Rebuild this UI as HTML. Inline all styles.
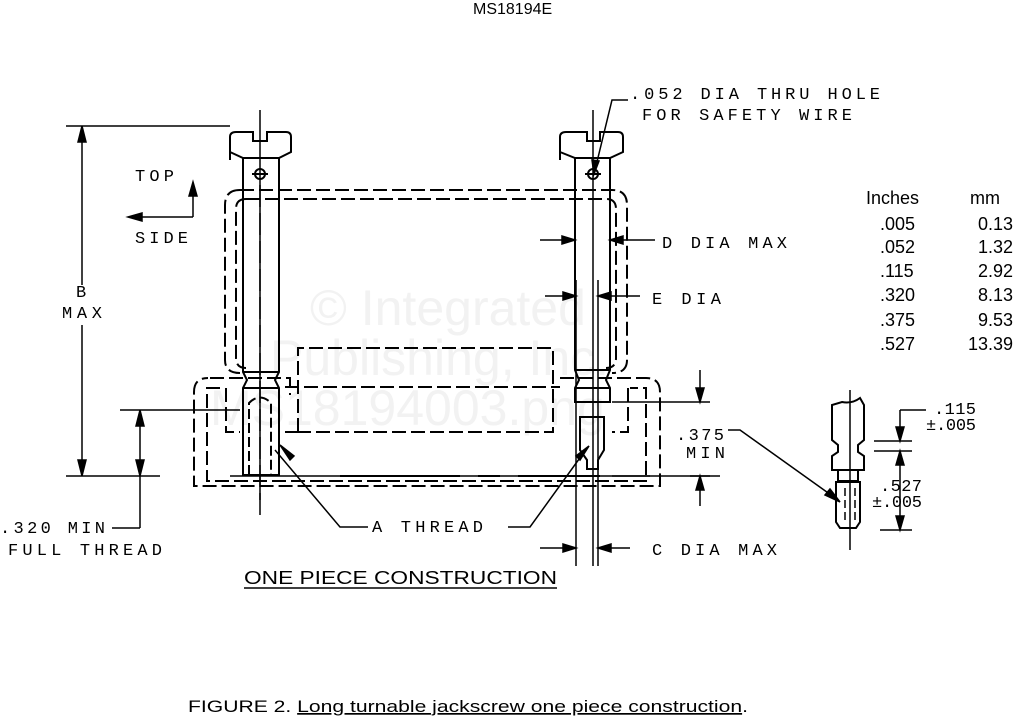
<!DOCTYPE html>
<html><head><style>
body{margin:0;background:#fff}
svg{display:block}
.t{font-family:"Liberation Sans",sans-serif;fill:#000}
.d{font-family:"Liberation Mono",monospace;fill:#000;font-size:17px}
.w{font-family:"Liberation Sans",sans-serif;fill:#f2f2f2;font-size:50px}
</style></head><body>
<svg width="1013" height="718" viewBox="0 0 1013 718" xmlns="http://www.w3.org/2000/svg">
<g class="w">
<text x="310" y="325">© Integrated</text>
<text x="270" y="375">Publishing, Inc.</text>
<text x="210" y="425">MS18194003.png</text>
</g>
<text class="t" x="473" y="14" font-size="16">MS18194E</text>
<g fill="none" stroke="#000" stroke-width="2">
<g stroke-dasharray="14,5">
<path d="M240,190 H612 Q627,190 627,205 V360 Q627,373 612,373"/>
<path d="M240,190 Q225,190 225,205 V360 Q225,373 240,373"/>
<path d="M246,199 H606 Q616,199 616,209 V358 Q616,368 606,368 M246,199 Q236,199 236,209 V358 Q236,368 246,368"/>
<path d="M210,378 H290 V395 M560,378 H646 Q660,378 660,392 V486 H194 V392 Q194,378 208,378"/>
<path d="M220,388 H207 V481 H646 V388 H630"/>
<path d="M298,432 V348 H553 V432 H298"/>
<path d="M285,387 H560 M285,432 H298"/>
<path d="M226,388 V432 H240 M628,388 V432 H612"/>
</g>
<path d="M230,160 V137 Q230,132 236,132 H253 V141 H267 V132 H286 Q291,132 291,137 V152 L279,158 H243 L230,152"/>
<path d="M243,158 V372 L247,380 L243,388 V475 H279 V388 L275,380 L279,372 V158"/>
<path d="M243,372 H279 M243,388 H279"/>
<path d="M249,475 V403 Q260,392 271,403 V475" stroke-dasharray="10,4"/>
<circle cx="260" cy="174" r="5"/>
<path d="M252,174 H268"/>
<path d="M560,160 V137 Q560,132 566,132 H587 V141 H600 V132 H618 Q623,132 623,137 V152 L610,158 H575 L560,152"/>
<path d="M575,158 V370 L579,380 L575,388 V402 H610 V388 L606,380 L610,370 V158"/>
<path d="M575,370 H610 M575,388 H610 M579,402 H606"/>
<path d="M580,417 H604 V450 L598,460 V469 H587 V460 L580,450 Z"/>
<circle cx="593" cy="174" r="5"/>
<path d="M585,174 H601"/>
</g>
<g stroke="#000" stroke-width="1.5" fill="none">
<path d="M260,110 V500"/>
<path d="M593,110 V566"/>
<path d="M598,280 V566 M576,280 V566"/>
<path d="M66,126 H230 M66,476 H160 M82,126 V285 M82,325 V476"/>
<path d="M82,126 L78,142 H86 Z M82,476 L78,460 H86 Z" fill="#000"/>
<path d="M120,410 H240 M140,410 V528 M140,528 H112"/>
<path d="M140,410 L136,426 H144 Z M140,476 L136,460 H144 Z" fill="#000"/>
<path d="M193,217 V185 M193,217 H130"/>
<path d="M193,182 L189,196 H197 Z M128,217 L142,213 V221 Z" fill="#000"/>
<path d="M230,476 H650 M690,476 H720" />
<path d="M275,450 L340,527 H368 M508,527 H530 L587,448"/>
<path d="M280,445 L290,460 L294,456 Z M589,446 L576,456 L580,460 Z" fill="#000"/>
<path d="M540,240 H575 M610,240 H655"/>
<path d="M575,240 L562,236 V244 Z M610,240 L623,236 V244 Z" fill="#000"/>
<path d="M545,296 H576 M598,296 H640"/>
<path d="M576,296 L563,292 V300 Z M598,296 L611,292 V300 Z" fill="#000"/>
<path d="M540,548 H576 M598,548 H630"/>
<path d="M576,548 L563,544 V552 Z M598,548 L611,544 V552 Z" fill="#000"/>
<path d="M628,100 H612 L595,170"/>
<path d="M594,174 L592,160 L599,161 Z" fill="#000"/>
<path d="M612,402 H710 M612,476 H710 M700,370 V402 M700,490 V506"/>
<path d="M700,402 L696,388 H704 Z M700,476 L696,490 H704 Z" fill="#000"/>
<path d="M728,430 H740 L838,500"/>
<path d="M840,502 L825,495 L830,489 Z" fill="#000"/>
<path d="M850,390 V550"/>
<path d="M832,440 V405 L842,402 Q852,404 860,398 L864,405 V440 L858,445 V452 L864,456 V470 H832 V456 L838,452 V445 L832,440 Z" stroke-width="2"/>
<path d="M838,470 V481 H858 V470 M836,482 H860 V522 L856,528 H840 L836,522 Z" stroke-width="2"/>
<path d="M845,488 V520 M855,488 V520" stroke-dasharray="8,4"/>
<path d="M874,441 H912 M874,451 H912 M900,410 H926 M900,410 V441 M900,451 V530 M880,530 H912"/>
<path d="M900,441 L896,427 H904 Z M900,451 L896,465 H904 Z M900,530 L896,516 H904 Z" fill="#000"/>
</g>
<g fill="none" stroke="#000" stroke-width="2" stroke-dasharray="120,18,22,18">
<path d="M340,476 H600"/>
</g>
<g stroke="#000" stroke-width="1.5" fill="none" stroke-dasharray="22,6"><path d="M260,185 V520"/></g>
<text class="d" x="135" y="181" textLength="39" lengthAdjust="spacing">TOP</text>
<text class="d" x="135" y="243" textLength="53" lengthAdjust="spacing">SIDE</text>
<text class="d" x="76" y="297">B</text>
<text class="d" x="62" y="318" textLength="40" lengthAdjust="spacing">MAX</text>
<text class="d" x="0" y="533" textLength="105" lengthAdjust="spacing">.320 MIN</text>
<text class="d" x="8" y="555" textLength="154" lengthAdjust="spacing">FULL THREAD</text>
<text class="d" x="372" y="532" textLength="111" lengthAdjust="spacing">A THREAD</text>
<text class="d" x="630" y="99" textLength="250" lengthAdjust="spacing">.052 DIA THRU HOLE</text>
<text class="d" x="642" y="120" textLength="210" lengthAdjust="spacing">FOR SAFETY WIRE</text>
<text class="d" x="662" y="248" textLength="125" lengthAdjust="spacing">D DIA MAX</text>
<text class="d" x="652" y="304" textLength="69" lengthAdjust="spacing">E DIA</text>
<text class="d" x="676" y="440" textLength="48" lengthAdjust="spacing">.375</text>
<text class="d" x="686" y="458" textLength="39" lengthAdjust="spacing">MIN</text>
<text class="d" x="652" y="555" textLength="125" lengthAdjust="spacing">C DIA MAX</text>
<text class="d" x="934" y="414" font-size="13" textLength="42" lengthAdjust="spacing">.115</text>
<text class="d" x="926" y="430" font-size="13" textLength="50" lengthAdjust="spacing">±.005</text>
<text class="d" x="880" y="491" font-size="13" textLength="42" lengthAdjust="spacing">.527</text>
<text class="d" x="872" y="507" font-size="13" textLength="50" lengthAdjust="spacing">±.005</text>
<text class="t" x="244" y="584" font-size="18" textLength="313" lengthAdjust="spacingAndGlyphs">ONE PIECE CONSTRUCTION</text>
<path d="M244,588 H557" stroke="#000" stroke-width="1.5"/>
<g class="t" font-size="18">
<text x="866" y="204">Inches</text><text x="970" y="204">mm</text>
<text x="880" y="230">.005</text><text x="978" y="230">0.13</text>
<text x="880" y="253">.052</text><text x="978" y="253">1.32</text>
<text x="880" y="277">.115</text><text x="978" y="277">2.92</text>
<text x="880" y="301">.320</text><text x="978" y="301">8.13</text>
<text x="880" y="326">.375</text><text x="978" y="326">9.53</text>
<text x="880" y="350">.527</text><text x="968" y="350">13.39</text>
</g>
<text class="t" x="188" y="712" font-size="17" textLength="560" lengthAdjust="spacingAndGlyphs">FIGURE 2.  <tspan text-decoration="underline">Long turnable jackscrew one piece construction</tspan>.</text>
</svg>
</body></html>
